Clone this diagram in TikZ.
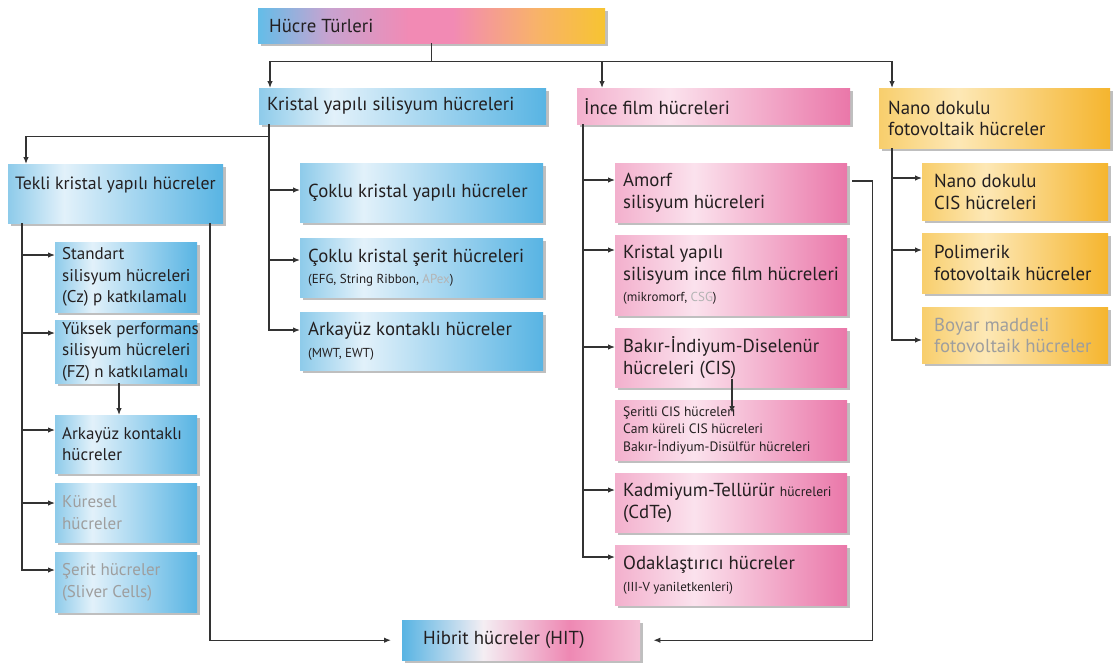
\documentclass[tikz,border=0pt]{standalone}
\usepackage{fontspec}
\setmainfont{PT Sans}
\usetikzlibrary{
    arrows.meta,
    positioning,
    shadows,
    calc
}

\definecolor{inkline}{HTML}{333333}
\definecolor{inktext}{HTML}{231F20}
\definecolor{greytext}{HTML}{9E9E9E}
\definecolor{paletext}{HTML}{B4B4B4}
\definecolor{blueedge}{HTML}{8ECBEA}
\definecolor{bluelight}{HTML}{E2F1FA}
\definecolor{bluedeep}{HTML}{58B4E3}
\definecolor{pinkedge}{HTML}{F3B0CD}
\definecolor{pinklight}{HTML}{FBE2ED}
\definecolor{pinkdeep}{HTML}{EA77A9}
\definecolor{amberedge}{HTML}{F8CE6C}
\definecolor{amberlight}{HTML}{FDE8B6}
\definecolor{amberdeep}{HTML}{F5B52E}
\definecolor{titleA}{HTML}{64BDE8}
\definecolor{titleB}{HTML}{C7A3D0}
\definecolor{titleC}{HTML}{F28AB4}
\definecolor{titleD}{HTML}{F8B26A}
\definecolor{titleE}{HTML}{F7C431}
\definecolor{hibritW}{HTML}{F4EEF3}
\definecolor{hibritP}{HTML}{EE88B3}
\definecolor{hibritL}{HTML}{F5C2D7}

\pgfdeclarehorizontalshading{bluecellshade}{100bp}{color(0bp)=(blueedge); color(25bp)=(blueedge); color(38bp)=(bluelight); color(75bp)=(bluedeep); color(100bp)=(bluedeep)}
\pgfdeclarehorizontalshading{pinkcellshade}{100bp}{color(0bp)=(pinkedge); color(25bp)=(pinkedge); color(42bp)=(pinklight); color(75bp)=(pinkdeep); color(100bp)=(pinkdeep)}
\pgfdeclarehorizontalshading{ambercellshade}{100bp}{color(0bp)=(amberedge); color(25bp)=(amberedge); color(42bp)=(amberlight); color(75bp)=(amberdeep); color(100bp)=(amberdeep)}
\pgfdeclarehorizontalshading{titleshade}{100bp}{color(0bp)=(titleA); color(25bp)=(titleA); color(35bp)=(titleB); color(47bp)=(titleC); color(53bp)=(titleC); color(65bp)=(titleD); color(75bp)=(titleE); color(100bp)=(titleE)}
\pgfdeclarehorizontalshading{hibritshade}{100bp}{color(0bp)=(bluedeep); color(25bp)=(bluedeep); color(42bp)=(hibritW); color(60bp)=(hibritP); color(75bp)=(hibritL); color(100bp)=(hibritL)}

\newcommand{\cellfont}{\fontsize{18.8}{21.5}\selectfont}
\newcommand{\leftfont}{\fontsize{17}{21.5}\selectfont}
\newcommand{\subfont}{\fontsize{13.6}{17.5}\selectfont}
\newcommand{\notefont}{\fontsize{13}{15}\selectfont}

\begin{document}
\begin{tikzpicture}[
        x=1pt, y=-1pt,
        cell/.style={anchor=north west, inner xsep=8pt, inner ysep=0pt, align=flush left,
            text=inktext, font=\cellfont,
            drop shadow={shadow xshift=3pt, shadow yshift=-3pt, fill=black!50, opacity=0.5}},
        bluecell/.style={cell, shade, shading=bluecellshade},
        pinkcell/.style={cell, shade, shading=pinkcellshade},
        ambercell/.style={cell, shade, shading=ambercellshade},
        leftcell/.style={bluecell, font=\leftfont, inner xsep=7pt, text width=128pt},
        faded/.style={text=greytext},
        arr/.style={draw=inkline, line width=1.2pt, -{Latex[length=7pt, width=5.5pt]}},
    ]
        \fill[white] (0,0) rectangle (1115,670);
        \useasboundingbox (0,0) rectangle (1115,670);

        % Top level
        \node[cell, shade, shading=titleshade, inner xsep=11pt, text width=325pt, minimum height=35pt] (turler) at (258,8) {Hücre Türleri};
        \node[bluecell, text width=271pt, minimum height=36pt] (kristal) at (259,88) {\mbox{Kristal yapılı silisyum hücreleri}};
        \node[pinkcell, inner xsep=7pt, text width=259pt, minimum height=36pt] (ince) at (577,88) {İnce film hücreleri};
        \node[ambercell, inner xsep=9pt, text width=213pt, minimum height=60pt] (nano) at (879,88) {Nano dokulu\\fotovoltaik hücreler};

        % Crystalline silicon
        \node[bluecell, font=\fontsize{17.8}{21.5}\selectfont, inner xsep=7pt, text width=201pt, minimum height=59pt] (tekli) at (8,164) {\mbox{Tekli kristal yapılı hücreler}\\\mbox{}};
        \node[bluecell, text width=227pt, minimum height=59pt] (coklu) at (300,163) {\mbox{Çoklu kristal yapılı hücreler}};
        \node[bluecell, text width=227pt, minimum height=59pt] (serit) at (300,238) {\mbox{Çoklu kristal şerit hücreleri}\\{\notefont(EFG, String Ribbon, \textcolor{paletext}{APex})}};
        \node[bluecell, text width=227pt, minimum height=58pt] (arkayuz) at (300,312) {\mbox{Arkayüz kontaklı hücreler}\\{\notefont(MWT, EWT)}};

        \node[leftcell, minimum height=70pt] (standart) at (55,242) {Standart\\\mbox{silisyum hücreleri}\\\mbox{(Cz) p katkılamalı}};
        \node[leftcell, minimum height=63pt] (yuksek) at (55,320) {\mbox{Yüksek performans}\\\mbox{silisyum hücreleri}\\\mbox{(FZ) n katkılamalı}};
        \node[leftcell, minimum height=58pt] (arkakont) at (55,415) {\mbox{Arkayüz kontaklı}\\hücreler};
        \node[leftcell, faded, minimum height=59pt] (kuresel) at (55,483) {Küresel\\hücreler};
        \node[leftcell, faded, minimum height=60pt] (sliver) at (55,552) {\mbox{Şerit hücreler}\\\mbox{(Sliver Cells)}};

        % Thin film
        \node[pinkcell, text width=216pt, minimum height=59pt] (amorf) at (615,163) {Amorf\\silisyum hücreleri};
        \node[pinkcell, text width=216pt, minimum height=80pt] (kinf) at (615,235) {Kristal yapılı\\\mbox{silisyum ince film hücreleri}\\{\notefont(mikromorf, \textcolor{paletext}{CSG})}};
        \node[pinkcell, text width=216pt, minimum height=59pt] (bakir) at (615,328) {\mbox{Bakır-İndiyum-Diselenür}\\hücreleri (CIS)};
        \node[pinkcell, font=\subfont, text width=216pt, minimum height=60pt] (cisalt) at (615,400) {Şeritli CIS hücreleri\\Cam küreli CIS hücreleri\\\mbox{Bakır-İndiyum-Disülfür hücreleri}};
        \node[pinkcell, text width=216pt, minimum height=59pt] (kadmiyum) at (615,473) {\mbox{Kadmiyum-Tellürür {\subfont hücreleri}}\\(CdTe)};
        \node[pinkcell, text width=216pt, minimum height=60pt] (odak) at (615,545) {\mbox{Odaklaştırıcı hücreler}\\{\notefont(III-V yaniletkenleri)}};

        % Nano structured
        \node[ambercell, inner xsep=12pt, text width=162pt, minimum height=57pt] (nanocis) at (922,163) {Nano dokulu\\CIS hücreleri};
        \node[ambercell, inner xsep=12pt, text width=162pt, minimum height=60pt] (polimerik) at (922,233) {Polimerik\\\mbox{fotovoltaik hücreler}};
        \node[ambercell, faded, inner xsep=12pt, text width=162pt, minimum height=56pt] (boyar) at (922,307) {Boyar maddeli\\\mbox{fotovoltaik hücreler}};

        % Hybrid
        \node[cell, shade, shading=hibritshade, inner xsep=21pt, text width=196pt, minimum height=40pt] (hibrit) at (402,620) {\mbox{Hibrit hücreler (HIT)}};

        % Connectors from the title
        \foreach \dst/\dx in {kristal/11, ince/25, nano/13}
            \draw[arr] (turler.south) -- ++(0,18) -| ([xshift=\dx]\dst.north west);

        % Crystalline branch
        \coordinate (kstem) at ([xshift=10]kristal.south west);
        \draw[arr] (kstem) -- ++(0,12) -| ([xshift=18]tekli.north west);
        \foreach \dst/\dy in {coklu/27, serit/22, arkayuz/18}
            \draw[arr] (kstem) |- ([yshift=-\dy]\dst.north west);

        \coordinate (tstem) at ([xshift=14]tekli.south west);
        \foreach \dst/\dy in {standart/13, yuksek/13, arkakont/15, kuresel/20, sliver/18}
            \draw[arr] (tstem) |- ([yshift=-\dy]\dst.north west);
        \draw[arr] ([xshift=64]yuksek.south west) -- ([xshift=64]arkakont.north west);
        \draw[arr, shorten >=11pt] ([xshift=202]tekli.south west) |- (hibrit.west);

        % Thin film branch
        \coordinate (istem) at ([xshift=6]ince.south west);
        \foreach \dst/\dy in {amorf/17, kinf/15, bakir/19, kadmiyum/17, odak/12}
            \draw[arr] (istem) |- ([yshift=-\dy]\dst.north west);
        \draw[arr] ([xshift=117,yshift=8]bakir.south west) -- ([xshift=117,yshift=-13]cisalt.north west);
        \draw[arr, shorten >=13pt] ([xshift=5,yshift=-18]amorf.north east) -- ++(20,0) |- (hibrit.east);

        % Nano branch
        \coordinate (nstem) at ([xshift=13]nano.south west);
        \foreach \dst/\dy in {nanocis/15, polimerik/17, boyar/33}
            \draw[arr] (nstem) |- ([yshift=-\dy]\dst.north west);
\end{tikzpicture}
\end{document}
